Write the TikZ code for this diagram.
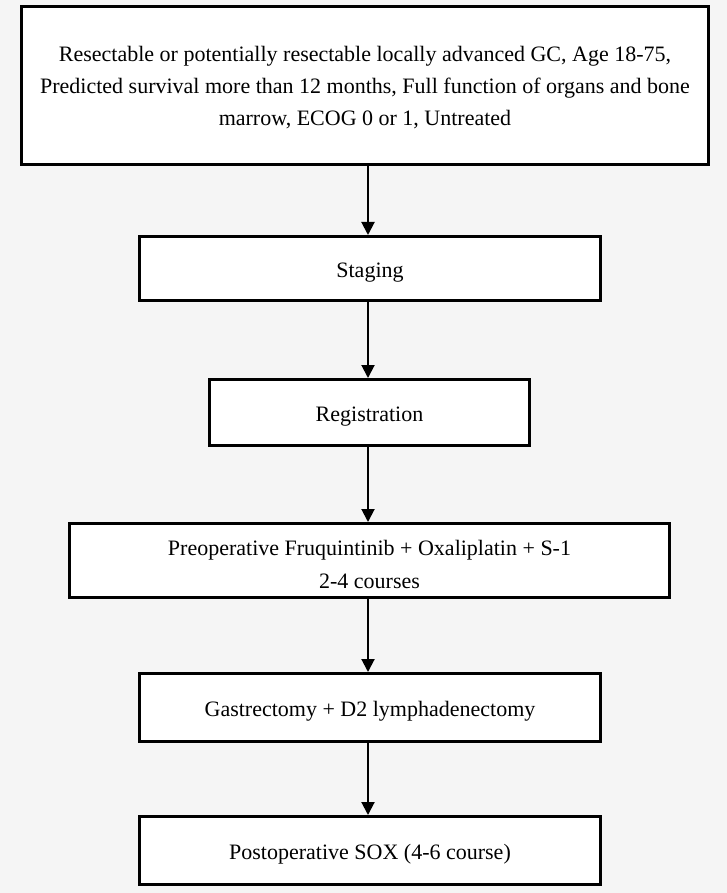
\documentclass[tikz,border=0pt]{standalone}
\usepackage{fontspec}
\setmainfont{Liberation Serif}
\usetikzlibrary{arrows.meta}
\definecolor{bgc}{RGB}{245,245,245}
\begin{document}
\begin{tikzpicture}[x=1pt,y=-1pt,
  box/.style={draw=black,fill=white,line width=3pt,inner sep=0pt,align=center,
    font=\fontsize{22}{32}\selectfont},
  one/.style={text height=18pt,text depth=0pt},
  txt/.style={inner sep=0pt,align=center},
  flow/.style={line width=2pt,-{Triangle[width=13pt,length=13pt]}}]
\fill[bgc] (0,0) rectangle (727,893);
\useasboundingbox (0,0) rectangle (727,893);
\node[box,minimum width=687pt,minimum height=158pt] (b1) at (365,85.5) {};
\node[txt,font=\fontsize{22}{32}\selectfont] (t1) at ([yshift=-2pt]b1.center)
  {Resectable or potentially resectable locally advanced GC, Age 18-75,\\
   Predicted survival more than 12 months, Full function of organs and bone\\
   marrow, ECOG 0 or 1, Untreated};
\node[box,one,minimum width=461pt,minimum height=64pt] (b2) at (370,268.5) {Staging};
\node[box,one,minimum width=320pt,minimum height=66pt] (b3) at (369.5,412.5) {Registration};
\node[box,minimum width=600pt,minimum height=74pt] (b4) at (369.5,560.5) {};
\node[txt,font=\fontsize{22}{33}\selectfont] (t4) at ([yshift=-4pt]b4.center)
  {Preoperative Fruquintinib + Oxaliplatin + S-1\\2-4 courses};
\node[box,one,minimum width=461pt,minimum height=68pt] (b5) at (370,707.5) {Gastrectomy + D2 lymphadenectomy};
\node[box,one,minimum width=461pt,minimum height=68pt] (b6) at (370,850.5) {Postoperative SOX (4-6 course)};
\coordinate (col) at (368,0);
\draw[flow] (b1.south -| col) -- (b2.north -| col);
\draw[flow] (b2.south -| col) -- (b3.north -| col);
\draw[flow] (b3.south -| col) -- (b4.north -| col);
\draw[flow] (b4.south -| col) -- (b5.north -| col);
\draw[flow] (b5.south -| col) -- (b6.north -| col);
\end{tikzpicture}
\end{document}
